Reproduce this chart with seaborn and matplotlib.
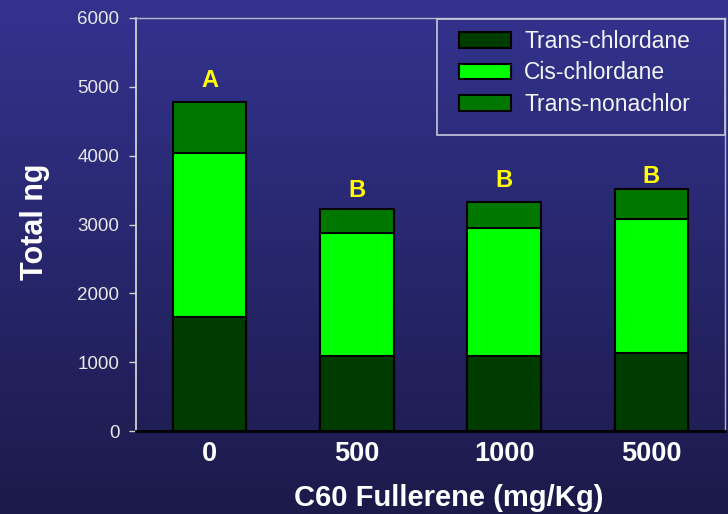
import numpy as np
import pandas as pd
import seaborn as sns
import matplotlib.pyplot as plt
from matplotlib.patches import Patch, Rectangle
from matplotlib.colors import LinearSegmentedColormap

# values
doses = ['0', '500', '1000', '5000']
trans_chlordane = [1660, 1090, 1095, 1140]
cis_chlordane = [2385, 1790, 1860, 1940]
trans_nonachlor = [740, 350, 375, 430]
letters = ['A', 'B', 'B', 'B']
letter_y = [5090, 3490, 3640, 3700]

df = pd.DataFrame({'dose': doses, 'tc': trans_chlordane,
                   'cc': cis_chlordane, 'tn': trans_nonachlor})
df['mid'] = df['tc'] + df['cc']
df['total'] = df['mid'] + df['tn']

c_tc, c_cc, c_tn = '#003c00', '#00ff00', '#007800'

sns.set_theme(style='white')
plt.rcParams['font.family'] = ['Liberation Sans', 'DejaVu Sans']

fig = plt.figure(figsize=(7.28, 5.14), dpi=100)

# gradient background
bg = fig.add_axes([0, 0, 1, 1], zorder=0)
grad = np.linspace(0, 1, 256)[:, None]
cmap = LinearSegmentedColormap.from_list('bg', ['#33338f', '#1c1a4a'])
bg.imshow(grad, aspect='auto', cmap=cmap, extent=[0, 1, 0, 1])
bg.axis('off')

ax = fig.add_axes([136/728, 1 - 431/514, 589/728, 413/514], zorder=1)
ax.patch.set_alpha(0)

# stacked bars: draw cumulative heights, tallest first
for col, color in [('total', c_tn), ('mid', c_cc), ('tc', c_tc)]:
    sns.barplot(data=df, x='dose', y=col, order=doses, color=color,
                saturation=1, width=0.5, edgecolor='black', linewidth=1.5, ax=ax)

for i, (lab, yv) in enumerate(zip(letters, letter_y)):
    ax.text(i, yv, lab, ha='center', va='center', color='#ffff00',
            fontsize=17, fontweight='bold')

ax.set_xlim(-0.5, 3.5)
ax.set_ylim(0, 6000)
ax.set_yticks(range(0, 6001, 1000))

ax.tick_params(axis='y', labelsize=13.5, labelcolor='#e8e8e8', length=5,
               color='#d0d0d0', width=1, pad=7, left=True)
ax.tick_params(axis='x', labelsize=19.5, labelcolor='white', length=0, pad=7)
for t in ax.get_xticklabels():
    t.set_fontweight('bold')

ax.set_xlabel('C60 Fullerene (mg/Kg)', fontsize=21, fontweight='bold', color='white')
ax.set_ylabel('Total ng', fontsize=22, fontweight='bold', color='white')
ax.xaxis.set_label_coords(0.531, -0.128)
ax.yaxis.set_label_coords(-0.146, 0.507)

ax.spines['left'].set_color('#e0e0e0')
ax.spines['left'].set_linewidth(1.2)
ax.spines['top'].set_color('#b4b4cc')
ax.spines['top'].set_linewidth(1)
ax.spines['right'].set_color('#b4b4cc')
ax.spines['right'].set_linewidth(1)
ax.spines['bottom'].set_color('black')
ax.spines['bottom'].set_linewidth(2)

handles = [Patch(facecolor=c_tc, edgecolor='black', linewidth=1.5, label='Trans-chlordane'),
           Patch(facecolor=c_cc, edgecolor='black', linewidth=1.5, label='Cis-chlordane'),
           Patch(facecolor=c_tn, edgecolor='black', linewidth=1.5, label='Trans-nonachlor')]
leg = ax.legend(handles=handles, loc='upper left', frameon=False, fontsize=16.5,
                bbox_to_anchor=(459/728, 1 - 30/514), bbox_transform=fig.transFigure,
                borderaxespad=0, borderpad=0, handlelength=2.27, handleheight=0.65,
                handletextpad=0.57, labelspacing=0.37)
for t in leg.get_texts():
    t.set_color('#f4f4f4')

fig.add_artist(Rectangle((437/728, 1 - 135/514), 288/728, 116/514,
                         transform=fig.transFigure, fill=False,
                         edgecolor='#c8c8dc', linewidth=1.2, zorder=3))

fig.savefig('out.png', dpi=100)
